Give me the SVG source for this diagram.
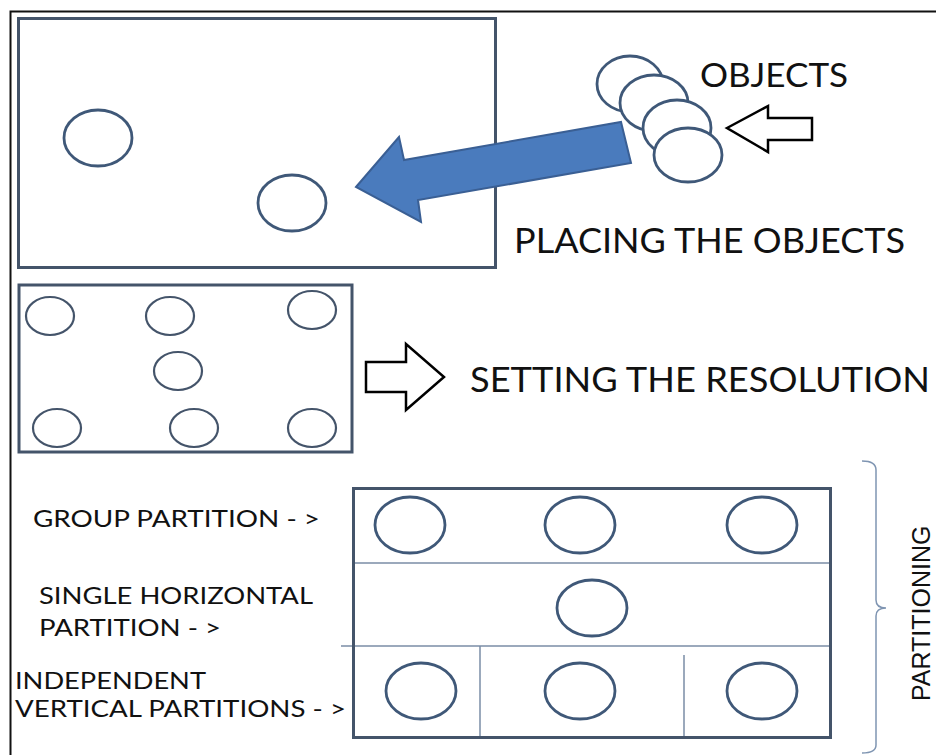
<svg xmlns="http://www.w3.org/2000/svg" width="936" height="755" viewBox="0 0 936 755">
<style>
.box{fill:none;stroke:#44546a;stroke-width:3}
.obj{fill:none;stroke:#3f5878;stroke-width:2.8}
.objw{fill:#ffffff;stroke:#3f5878;stroke-width:2.8}
.sm{fill:none;stroke:#44546a;stroke-width:2.2}
.div{stroke:#7a8ca6;stroke-width:1.5;fill:none}
.lbl{font-family:Lato,"Open Sans","Liberation Sans",sans-serif;fill:#111111}
.hollow{fill:#ffffff;stroke:#000000;stroke-width:2.5;stroke-linejoin:miter}
</style>
<rect x="0" y="0" width="936" height="755" fill="#ffffff"/>
<g id="frame"><path d="M10.5 755 V11.5 H936" fill="none" stroke="#111" stroke-width="2"/></g>

<g id="placing-box">
<rect class="box" x="18.5" y="18.5" width="477" height="249"/>
<ellipse class="obj" cx="98" cy="138" rx="34" ry="28"/>
<ellipse class="obj" cx="292" cy="203" rx="34" ry="28"/>
</g>

<g id="connectors">
<polygon points="356,187 399,137 404,160 621,122 631,163 418,200 421,222" fill="#4a7bbd" stroke="#3a5f94" stroke-width="2" stroke-linejoin="miter"/>
<polygon class="hollow" points="727,128 768,106 768,118 812,118 812,140 768,140 768,152"/>
<polygon class="hollow" points="366,362 406,362 406,344 444,377 406,410 406,392 366,392"/>
</g>

<g id="objects">
<ellipse class="objw" cx="630" cy="84" rx="33" ry="28"/>
<ellipse class="objw" cx="654" cy="103" rx="34" ry="28"/>
<ellipse class="objw" cx="677" cy="128" rx="34" ry="28"/>
<ellipse class="objw" cx="688" cy="155" rx="34" ry="27"/>
<text class="lbl" x="700" y="87" font-size="32" textLength="148" lengthAdjust="spacingAndGlyphs">OBJECTS</text>
</g>

<g id="placing-label"><text class="lbl" x="514" y="253" font-size="34" textLength="391" lengthAdjust="spacingAndGlyphs">PLACING THE OBJECTS</text></g>

<g id="resolution-box">
<rect class="box" x="19" y="285" width="333" height="167" stroke-width="2.5"/>
<ellipse class="sm" cx="50" cy="316" rx="24" ry="19"/>
<ellipse class="sm" cx="170" cy="316" rx="24" ry="19"/>
<ellipse class="sm" cx="312" cy="310" rx="24" ry="19"/>
<ellipse class="sm" cx="178" cy="371" rx="24" ry="19"/>
<ellipse class="sm" cx="57" cy="428" rx="24" ry="19"/>
<ellipse class="sm" cx="194" cy="428" rx="24" ry="19"/>
<ellipse class="sm" cx="312" cy="428" rx="24" ry="19"/>
</g>

<g id="resolution-label"><text class="lbl" x="470" y="392" font-size="35" textLength="460" lengthAdjust="spacingAndGlyphs">SETTING THE RESOLUTION</text></g>

<g id="partition-box">
<line class="div" x1="353" y1="563" x2="831" y2="563"/>
<line class="div" x1="341" y1="646" x2="831" y2="646"/>
<line class="div" x1="480" y1="646" x2="480" y2="738"/>
<line class="div" x1="684" y1="655" x2="684" y2="738"/>
<rect class="box" x="353.5" y="488.5" width="477" height="249"/>
<ellipse class="obj" cx="410" cy="525" rx="35" ry="28"/>
<ellipse class="obj" cx="580" cy="525" rx="35" ry="28"/>
<ellipse class="obj" cx="762" cy="525" rx="35" ry="28"/>
<ellipse class="obj" cx="592" cy="608" rx="35" ry="28"/>
<ellipse class="obj" cx="421" cy="691" rx="35" ry="28"/>
<ellipse class="obj" cx="580" cy="691" rx="35" ry="28"/>
<ellipse class="obj" cx="762" cy="691" rx="35" ry="28"/>
</g>

<g id="partition-labels">
<text class="lbl" x="33" y="527" font-size="24" textLength="287" lengthAdjust="spacingAndGlyphs">GROUP PARTITION - &gt;</text>
<text class="lbl" x="39" y="604" font-size="24" textLength="274" lengthAdjust="spacingAndGlyphs">SINGLE HORIZONTAL</text>
<text class="lbl" x="39" y="636" font-size="24" textLength="182" lengthAdjust="spacingAndGlyphs">PARTITION - &gt;</text>
<text class="lbl" x="15" y="689" font-size="24" textLength="191" lengthAdjust="spacingAndGlyphs">INDEPENDENT</text>
<text class="lbl" x="15" y="717" font-size="24" textLength="331" lengthAdjust="spacingAndGlyphs">VERTICAL PARTITIONS - &gt;</text>
</g>

<g id="partitioning">
<path d="M862 461 Q876 461 876 470 V600 Q876 608 886 608 Q876 608 876 616 V745 Q876 753 862 753" fill="none" stroke="#7f95b2" stroke-width="1.5"/>
<text x="930" y="701" transform="rotate(-90 930 701)" font-family="'Liberation Sans',Arial,sans-serif" font-size="25" fill="#111">PARTITIONING</text>
</g>
</svg>
